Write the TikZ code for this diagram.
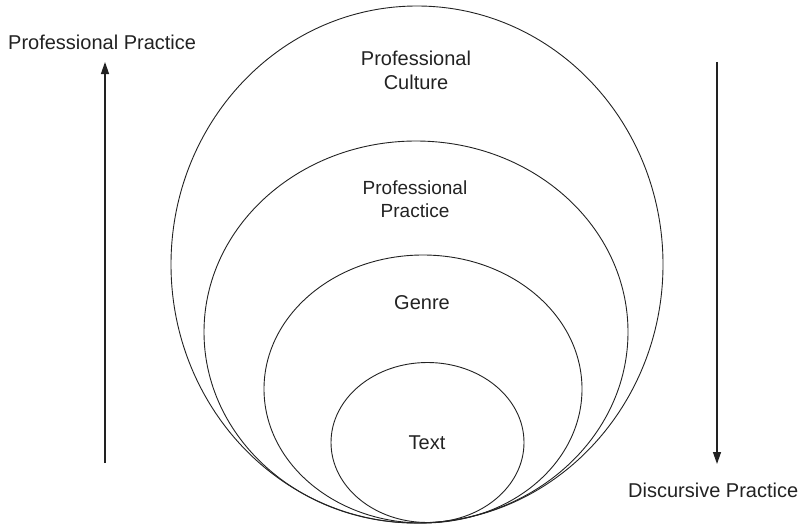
\documentclass[tikz,border=0pt]{standalone}
\usepackage{fontspec}
\setmainfont{Liberation Sans}
\usetikzlibrary{arrows.meta}
\definecolor{ink}{HTML}{222222}
\begin{document}
\begin{tikzpicture}[x=1pt,y=-1pt,
  ring/.style={draw=ink, line width=0.9pt},
  flow/.style={draw=ink, line width=1.3pt, -{Triangle[length=12pt,width=8pt]}},
  lbl/.style={text=ink, font=\fontsize{20}{24}\selectfont, align=center, inner sep=0pt},
  lblsmall/.style={text=ink, font=\fontsize{19}{23}\selectfont, align=center, inner sep=0pt}]
  \useasboundingbox (0,0) rectangle (808,527);

  % nested contexts, all touching at the bottom
  \draw[ring] (417,264.5) ellipse [x radius=246, y radius=258.5];
  \draw[ring] (416,332) ellipse [x radius=212, y radius=191];
  \draw[ring] (423,389) ellipse [x radius=159, y radius=134];
  \draw[ring] (427.5,442.5) ellipse [x radius=96.5, y radius=80];

  % ring labels
  \node[lbl] (culture) at (416,70) {Professional\\Culture};
  \node[lblsmall] (practice) at (415,199) {Professional\\Practice};
  \node[lbl] (genre) at (422,303) {Genre};
  \node[lbl] (text) at (427,443) {Text};

  % side arrows
  \node[lbl, anchor=base west] (leftlbl) at (8,50) {Professional Practice};
  \node[lbl, anchor=base west] (rightlbl) at (628,497) {Discursive Practice};
  \coordinate (upfoot) at (105,463);
  \coordinate (uphead) at (105,62);
  \coordinate (downfoot) at (717,62);
  \coordinate (downhead) at (717,464);
  \draw[flow] (upfoot) -- (uphead);
  \draw[flow] (downfoot) -- (downhead);
\end{tikzpicture}
\end{document}
